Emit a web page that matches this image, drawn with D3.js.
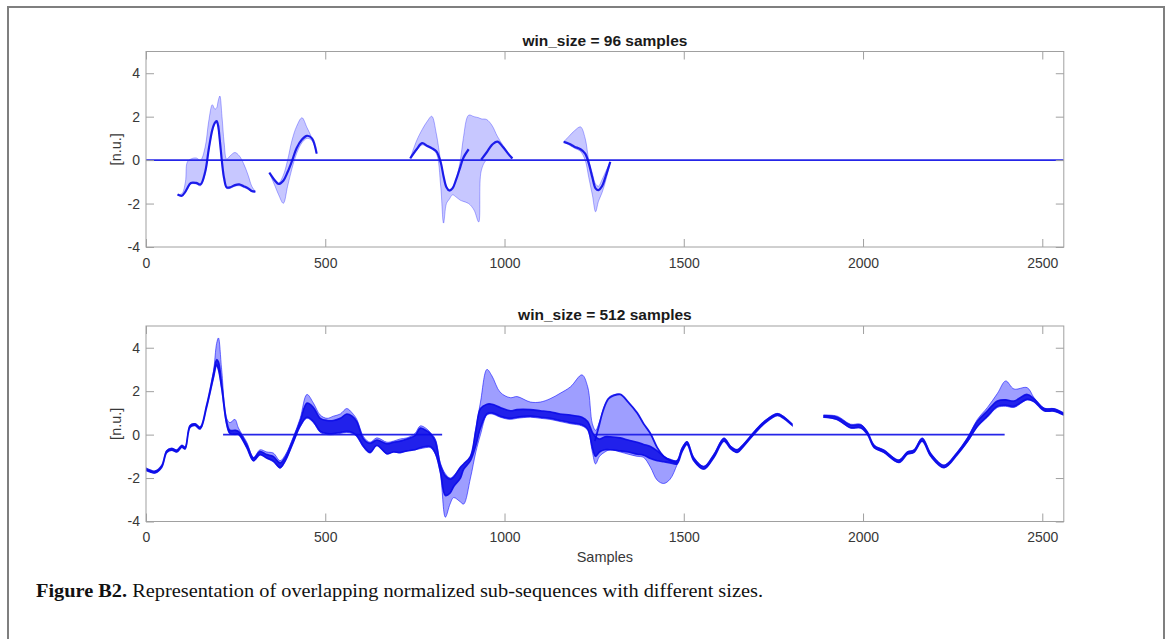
<!DOCTYPE html>
<html><head><meta charset="utf-8">
<script src="https://cdn.jsdelivr.net/npm/d3@7"></script>
<style>body{margin:0;background:#fff} svg{display:block}</style>
</head><body><svg id="c" width="1172" height="639"></svg>
<script>
// ---------- data ----------
const xTicks = [0, 500, 1000, 1500, 2000, 2500];
const yTicks = [-4, -2, 0, 2, 4];
const titles = ["win_size = 96 samples", "win_size = 512 samples"];
const yLabel = "[n.u.]";
const xLabel = "Samples";

// Top panel (win 96): sample positions, envelope of sub-sequences and dense core trace (null = gap)
const topX = [88,100,110,115,125,140,152,165,175,185,192,197,201,206,212,218,225,235,248,260,272,285,295,305, 320,
  344,360,370,383,395,407,420,435,449,463,476, 600,
  737,755,770,785,797,810,822,830,838,846,855,865,877,885,900,915,928,935,950,965,980,995,1010,1022, 1100,
  1165,1180,1195,1212,1225,1235,1245,1254,1262,1272,1283,1295];
const topHi = [-1.58,-1.55,-1.0,-0.1,0.05,0.1,0.0,0.6,1.8,2.55,2.35,2.4,2.7,2.95,2.0,0.8,0.05,0.2,0.35,0.2,-0.15,-0.7,-1.2,-1.45, null,
  -0.58,-0.9,-1.05,-0.7,0.0,0.9,1.55,1.95,1.5,1.0,0.3, null,
  0.08,0.9,1.4,1.8,2.02,1.2,-0.05,-0.7,-1.2,-1.35,-1.25,-0.85,0.0,1.0,2.07,2.0,1.95,1.9,1.87,1.6,1.1,0.7,0.35,0.08, null,
  0.84,1.1,1.35,1.53,1.0,0.0,-0.6,-1.1,-1.2,-0.9,-0.5,-0.08];
const topLo = [-1.6,-1.66,-1.5,-1.35,-1.1,-1.1,-1.18,-0.62,0.42,1.32,1.64,1.72,1.5,0.8,-0.2,-0.92,-1.3,-1.3,-1.2,-1.18,-1.25,-1.35,-1.46,-1.47, null,
  -0.58,-1.2,-1.6,-1.99,-1.2,-0.4,0.3,0.8,1.0,0.9,0.3, null,
  0.08,0.45,0.7,0.6,0.5,0.3,-1.2,-2.9,-2.0,-1.8,-1.6,-1.7,-1.85,-1.9,-2.0,-2.3,-2.85,-0.5,0.0,0.0,0.0,0.0,0.0,0.08, null,
  0.84,0.7,0.55,0.4,0.0,-0.8,-1.6,-2.38,-1.9,-1.5,-0.9,-0.08];
const topCore = [-1.58,-1.64,-1.45,-1.3,-1.05,-1.05,-1.12,-0.55,0.5,1.4,1.72,1.8,1.6,0.9,-0.1,-0.85,-1.25,-1.25,-1.15,-1.12,-1.2,-1.3,-1.42,-1.45, null,
  -0.58,-0.95,-1.1,-0.95,-0.55,-0.05,0.55,0.95,1.12,1.0,0.3, null,
  0.08,0.5,0.78,0.65,0.55,0.4,-0.1,-0.75,-1.25,-1.4,-1.3,-0.9,-0.3,0.1,0.5,null,null,0.02,0.35,0.7,0.85,0.62,0.3,0.08, null,
  0.84,0.75,0.62,0.5,0.3,-0.15,-0.8,-1.3,-1.38,-1.2,-0.7,-0.08];
const topZero = [[0, 2560]];

// Bottom panel (win 512)
const botX = [0,25,44,58,72,86,100,109,123,137,151,169,188,197,202,211,225,234,248,258,281,300,318,337,355,374,388,411,430,449,467,486,505,523,542,560,575,588,607,625,644,672,690,709,728,750,765,780,793,807,821,835,848,858,877,886,905,920,933,951,965,988,1016,1035,1072,1100,1127,1155,1184,1216,1232,1245,1254,1265,1280,1295,1323,1345,1370,1388,1407,1426,1444,1462,1481,1495,1509,1528,1556,1584,1612,1631,1649,1668,1696,1723,1761,1780,1802, 1850,
  1891,1928,1965,1993,2012,2031,2058,2100,2124,2142,2165,2189,2226,2263,2291,2319,2347,2375,2398,2421,2458,2477,2505,2533,2560];
const botLo = [-1.6,-1.78,-1.5,-0.82,-0.72,-0.8,-0.58,-0.66,0.34,0.42,0.26,1.25,2.6,3.2,3.0,2.1,0.45,0.05,0.0,0.0,-0.6,-1.22,-0.92,-1.1,-1.25,-1.55,-1.25,-0.35,0.35,0.75,0.55,0.1,0.0,0.0,0.05,0.1,0.05,-0.1,-0.6,-0.85,-0.5,-0.9,-0.8,-0.85,-0.75,-0.7,-0.65,-0.6,-0.6,-0.9,-1.8,-3.8,-3.2,-2.9,-3.1,-3.2,-2.0,-0.8,0.0,0.9,0.95,0.8,0.7,0.75,0.8,0.75,0.7,0.6,0.5,0.4,0.2,-0.8,-1.35,-1.0,-0.8,-0.7,-0.8,-0.9,-1.0,-1.05,-1.5,-2.1,-2.25,-2.05,-1.4,-0.8,-0.45,-1.2,-1.6,-1.05,-0.3,-0.66,-0.82,-0.52,0.02,0.48,0.88,0.73,0.43, null,
  0.8,0.68,0.3,0.3,0.02,-0.6,-0.82,-1.28,-0.9,-0.82,-0.3,-1.0,-1.52,-0.92,-0.35,0.35,0.8,1.25,1.3,1.25,1.6,1.5,1.1,1.08,0.9];
const botHi = [-1.6,-1.7,-1.42,-0.72,-0.62,-0.7,-0.48,-0.56,0.44,0.5,0.34,1.35,2.9,4.2,4.45,3.0,0.75,0.55,0.7,0.3,-0.35,-1.05,-0.7,-0.8,-0.85,-1.2,-0.95,-0.1,0.75,1.85,1.45,0.9,0.75,0.85,0.95,1.2,1.0,0.7,-0.1,-0.35,-0.15,-0.35,-0.3,-0.2,-0.15,0.05,0.4,0.3,0.1,-0.2,-1.3,-1.8,-2.0,-1.9,-1.5,-1.35,-1.0,0.3,1.5,3.0,2.7,1.95,1.7,1.75,1.5,1.5,1.65,1.9,2.2,2.75,2.2,0.5,0.2,0.6,1.4,1.77,1.85,1.5,1.0,0.5,0.05,-0.6,-1.0,-1.2,-1.2,-0.6,-0.32,-1.05,-1.45,-0.9,-0.15,-0.52,-0.68,-0.4,0.14,0.6,0.98,0.82,0.5, null,
  0.9,0.85,0.48,0.48,0.14,-0.48,-0.7,-1.16,-0.78,-0.7,-0.15,-0.86,-1.4,-0.8,-0.15,0.7,1.25,1.9,2.47,2.1,2.16,1.7,1.22,1.2,1.0];
const botLo2 = [-1.65,-1.76,-1.5,-0.82,-0.72,-0.8,-0.58,-0.66,0.34,0.42,0.26,1.25,2.62,3.2,3.0,2.15,0.48,0.06,0.02,0.02,-0.6,-1.2,-0.92,-1.08,-1.22,-1.52,-1.22,-0.35,0.4,0.8,0.6,0.15,0.05,0.05,0.1,0.15,0.1,-0.05,-0.55,-0.82,-0.5,-0.88,-0.8,-0.82,-0.75,-0.7,-0.6,-0.55,-0.55,-0.85,-1.7,-2.8,-2.7,-2.4,-2.0,-1.6,-1.2,-0.5,0.3,0.95,1.0,0.85,0.75,0.8,0.85,0.8,0.75,0.65,0.55,0.45,0.25,-0.6,-1.0,-0.8,-0.7,-0.7,-0.75,-0.8,-0.9,-0.95,-1.1,-1.2,-1.25,-1.3,-1.35,-0.8,-0.45,-1.2,-1.58,-1.05,-0.3,-0.66,-0.82,-0.52,0.02,0.48,0.88,0.73,0.43, null,
  0.8,0.7,0.32,0.32,0.02,-0.6,-0.82,-1.28,-0.9,-0.82,-0.3,-1.0,-1.52,-0.92,-0.32,0.38,0.85,1.3,1.35,1.3,1.62,1.52,1.1,1.08,0.9];
const botHi2 = [-1.55,-1.68,-1.42,-0.74,-0.64,-0.72,-0.5,-0.58,0.42,0.5,0.34,1.35,2.8,3.45,3.35,2.35,0.62,0.2,0.2,0.15,-0.45,-1.08,-0.78,-0.92,-1.0,-1.3,-1.05,-0.18,0.62,1.45,1.25,0.75,0.65,0.65,0.75,0.95,0.85,0.6,-0.2,-0.4,-0.25,-0.42,-0.35,-0.3,-0.2,-0.05,0.3,0.2,0.05,-0.3,-1.4,-1.9,-2.05,-1.95,-1.5,-1.35,-1.0,0.2,1.2,1.4,1.4,1.25,1.1,1.15,1.15,1.1,1.05,0.95,0.9,0.8,0.6,0.1,-0.1,-0.2,-0.1,-0.1,-0.15,-0.25,-0.35,-0.45,-0.55,-0.75,-1.0,-1.15,-1.2,-0.65,-0.33,-1.08,-1.48,-0.92,-0.18,-0.55,-0.7,-0.42,0.12,0.58,0.96,0.8,0.48, null,
  0.88,0.8,0.44,0.44,0.12,-0.5,-0.72,-1.18,-0.8,-0.72,-0.18,-0.88,-1.42,-0.82,-0.18,0.62,1.1,1.55,1.6,1.55,1.85,1.65,1.2,1.18,0.98];
// single dark sub-sequence riding above the band after the drop at ~1250
const botRidgeX = [1252,1262,1275,1290,1305,1323,1345,1370,1388,1407,1426,1444,1462,1481];
const botRidgeY = [-0.3,0.3,1.1,1.65,1.8,1.85,1.5,1.0,0.5,0.05,-0.6,-1.0,-1.2,-1.3];
const botZero = [[215, 826], [1250, 2395]];

// ---------- drawing ----------
const svg = d3.select("#c");
svg.append("rect").attr("x", 8).attr("y", 7).attr("width", 1156).attr("height", 700)
  .attr("fill", "#fff").attr("stroke", "#7f7f7f").attr("stroke-width", 2);

const x = d3.scaleLinear().domain([0, 2560]).range([146, 1063.8]);
const AX = "#a0a0a0", TX = "#383838", BLUE = "#0000ff", DARK = "#0a0ae8";
const font = "'Liberation Sans', Arial, Helvetica, sans-serif";
const fmt = d => String(d);

function rows(xs, cols) {
  return xs.map((s, i) => { const r = {s}; for (const k in cols) r[k] = cols[k][i]; return r; });
}

function panel(idx, yTop, yBot, title, data, zeroSegs, dense, ridge) {
  const y = d3.scaleLinear().domain([-4, 5]).range([yBot, yTop]);
  const g = svg.append("g");
  const cid = "clip" + idx;
  svg.append("clipPath").attr("id", cid).append("rect")
    .attr("x", x(0)).attr("y", yTop).attr("width", x(2560) - x(0)).attr("height", yBot - yTop);
  const plot = g.append("g").attr("clip-path", `url(#${cid})`);
  const curve = d3.curveCatmullRom.alpha(0.5);

  const outer = d3.area().defined(d => d.lo != null && d.hi != null)
    .x(d => x(d.s)).y0(d => y(d.lo)).y1(d => y(d.hi)).curve(curve);
  plot.append("path").datum(data).attr("d", outer)
    .attr("fill", BLUE).attr("fill-opacity", dense ? 0.38 : 0.22).attr("stroke", "none");
  ["lo", "hi"].forEach(k => {
    const ln = d3.line().defined(d => d[k] != null).x(d => x(d.s)).y(d => y(d[k])).curve(curve);
    plot.append("path").datum(data).attr("d", ln).attr("fill", "none")
      .attr("stroke", BLUE).attr("stroke-opacity", dense ? 0.55 : 0.3).attr("stroke-width", 1);
  });

  zeroSegs.forEach(sg => {
    plot.append("line").attr("x1", x(sg[0])).attr("x2", x(sg[1])).attr("y1", y(0)).attr("y2", y(0))
      .attr("stroke", "#2525e8").attr("stroke-width", 1.6);
  });

  if (ridge) {
    const rl = d3.line().x(d => x(d[0])).y(d => y(d[1])).curve(curve);
    plot.append("path").datum(ridge).attr("d", rl).attr("fill", "none")
      .attr("stroke", DARK).attr("stroke-width", 1.8).attr("stroke-opacity", 0.9);
  }

  if (dense) {
    const inner = d3.area().defined(d => d.lo2 != null && d.hi2 != null)
      .x(d => x(d.s)).y0(d => y(d.lo2)).y1(d => y(d.hi2)).curve(curve);
    plot.append("path").datum(data).attr("d", inner)
      .attr("fill", DARK).attr("fill-opacity", 0.85)
      .attr("stroke", DARK).attr("stroke-width", 1.6).attr("stroke-opacity", 0.9);
  } else {
    const core = d3.line().defined(d => d.core != null).x(d => x(d.s)).y(d => y(d.core)).curve(curve);
    plot.append("path").datum(data).attr("d", core).attr("fill", "none")
      .attr("stroke", DARK).attr("stroke-width", 2.2).attr("stroke-opacity", 0.9);
  }

  g.append("rect").attr("x", x(0)).attr("y", yTop).attr("width", x(2560) - x(0)).attr("height", yBot - yTop)
    .attr("fill", "none").attr("stroke", AX).attr("stroke-width", 1);

  const style = sel => {
    sel.select(".domain").remove();
    sel.selectAll("line").attr("stroke", AX);
    sel.selectAll("text").attr("fill", TX).style("font-family", font).style("font-size", "14px");
  };
  g.append("g").attr("transform", `translate(0,${yBot})`)
    .call(d3.axisBottom(x).tickValues(xTicks).tickSizeInner(-8).tickSizeOuter(0).tickPadding(11).tickFormat(fmt))
    .call(style);
  g.append("g").attr("transform", `translate(0,${yTop})`)
    .call(d3.axisTop(x).tickValues(xTicks).tickSizeInner(-8).tickSizeOuter(0).tickFormat(""))
    .call(style);
  g.append("g").attr("transform", `translate(${x(0)},0)`)
    .call(d3.axisLeft(y).tickValues(yTicks).tickSizeInner(-8).tickSizeOuter(0).tickPadding(6).tickFormat(fmt))
    .call(style);
  g.append("g").attr("transform", `translate(${x(2560)},0)`)
    .call(d3.axisRight(y).tickValues(yTicks).tickSizeInner(-8).tickSizeOuter(0).tickFormat(""))
    .call(style);

  g.append("text").attr("x", (x(0) + x(2560)) / 2).attr("y", yTop - 6)
    .attr("text-anchor", "middle").attr("fill", "#1a1a1a")
    .style("font-family", font).style("font-size", "15.5px").style("font-weight", "bold").text(title);
  g.append("text").attr("transform", `translate(121,${(yTop + yBot) / 2}) rotate(-90)`)
    .attr("text-anchor", "middle").attr("fill", TX)
    .style("font-family", font).style("font-size", "14.5px").text(yLabel);
  return y;
}

panel(0, 51.5, 247, titles[0], rows(topX, {lo: topLo, hi: topHi, core: topCore}), topZero, false, null);
panel(1, 326, 521.5, titles[1], rows(botX, {lo: botLo, hi: botHi, lo2: botLo2, hi2: botHi2}), botZero, true,
  botRidgeX.map((s, i) => [s, botRidgeY[i]]));

svg.append("text").attr("x", (x(0) + x(2560)) / 2).attr("y", 562)
  .attr("text-anchor", "middle").attr("fill", TX)
  .style("font-family", font).style("font-size", "14.5px").text(xLabel);

const cap = svg.append("text").attr("x", 36).attr("y", 597)
  .attr("textLength", 727).attr("lengthAdjust", "spacingAndGlyphs")
  .style("font-family", "'Liberation Serif', 'Times New Roman', serif").style("font-size", "18.5px").attr("fill", "#111");
cap.append("tspan").style("font-weight", "bold").text("Figure B2.");
cap.append("tspan").text(" Representation of overlapping normalized sub-sequences with different sizes.");
</script>
</body></html>
